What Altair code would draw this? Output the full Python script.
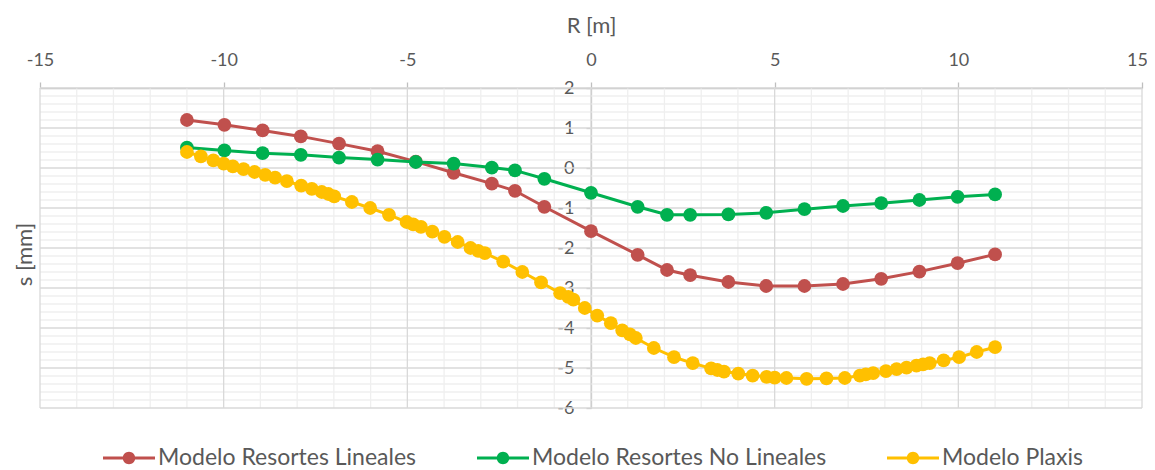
import altair as alt
import pandas as pd

series_names = ["Modelo Resortes Lineales", "Modelo Resortes No Lineales", "Modelo Plaxis"]
series_colors = ["#C0504D", "#00B050", "#FFC000"]

# Spring models (same R positions)
r_springs = [-11.0, -9.98, -8.94, -7.9, -6.86, -5.81, -4.77, -3.74, -2.7, -2.07, -1.27, 0.0,
             1.27, 2.07, 2.7, 3.74, 4.77, 5.81, 6.86, 7.9, 8.94, 9.98, 11.0]
s_linear = [1.20, 1.08, 0.94, 0.79, 0.61, 0.42, 0.16, -0.12, -0.39, -0.57, -0.97, -1.58,
            -2.17, -2.55, -2.68, -2.85, -2.95, -2.95, -2.90, -2.77, -2.59, -2.38, -2.16]
s_nonlinear = [0.51, 0.44, 0.37, 0.33, 0.26, 0.21, 0.15, 0.11, 0.01, -0.06, -0.27, -0.62,
               -0.97, -1.17, -1.17, -1.16, -1.12, -1.03, -0.95, -0.88, -0.80, -0.72, -0.66]

# Plaxis model
r_plaxis = [-11.0, -10.62, -10.28, -10.0, -9.75, -9.46, -9.16, -8.87, -8.6, -8.28, -7.89, -7.6,
            -7.33, -7.15, -6.99, -6.51, -6.01, -5.5, -5.02, -4.84, -4.63, -4.32, -3.99, -3.63,
            -3.28, -3.07, -2.89, -2.39, -1.87, -1.36, -0.84, -0.62, -0.48, -0.17, 0.17, 0.54,
            0.85, 1.06, 1.22, 1.71, 2.26, 2.77, 3.27, 3.44, 3.62, 4.01, 4.4, 4.78, 5.0, 5.32,
            5.87, 6.41, 6.91, 7.32, 7.48, 7.68, 8.03, 8.32, 8.59, 8.86, 9.04, 9.22, 9.6, 10.02,
            10.5, 11.0]
s_plaxis = [0.40, 0.29, 0.19, 0.11, 0.04, -0.03, -0.10, -0.17, -0.24, -0.33, -0.44, -0.52,
            -0.60, -0.65, -0.71, -0.85, -1.00, -1.17, -1.35, -1.41, -1.47, -1.59, -1.72, -1.85,
            -2.00, -2.07, -2.13, -2.34, -2.60, -2.86, -3.13, -3.22, -3.29, -3.50, -3.69, -3.88,
            -4.06, -4.16, -4.25, -4.50, -4.73, -4.88, -5.01, -5.05, -5.09, -5.14, -5.19, -5.22,
            -5.24, -5.25, -5.27, -5.26, -5.25, -5.19, -5.16, -5.13, -5.08, -5.03, -4.99, -4.94,
            -4.91, -4.88, -4.81, -4.73, -4.60, -4.48]

x_ticks = [-15, -10, -5, 0, 5, 10, 15]
y_ticks = [-6, -5, -4, -3, -2, -1, 0, 1, 2]
x_minor = [v for v in range(-15, 16) if v % 5 != 0]
y_minor = [round(-6 + 0.2 * i, 1) for i in range(41) if i % 5 != 0]

rows = []
for r, s in zip(r_springs, s_linear):
    rows.append({"R": r, "s": s, "serie": series_names[0]})
for r, s in zip(r_springs, s_nonlinear):
    rows.append({"R": r, "s": s, "serie": series_names[1]})
for r, s in zip(r_plaxis, s_plaxis):
    rows.append({"R": r, "s": s, "serie": series_names[2]})
df = pd.DataFrame(rows)

W, H = 1102, 320
FONT = "Lato"
GREY = "#595959"
AXIS_C = "#BFBFBF"

x_scale = alt.Scale(domain=[-15, 15], nice=False, zero=False)
y_scale = alt.Scale(domain=[-6, 2], nice=False, zero=False)
color_scale = alt.Scale(domain=series_names, range=series_colors)

x_axis = alt.Axis(orient="top", values=x_ticks, grid=False, domainColor=AXIS_C, domainWidth=1.3,
                  tickColor=AXIS_C, tickSize=6, tickWidth=1.3, labelColor=GREY, labelFont=FONT,
                  labelFontSize=18, labelPadding=13, labelExpr="'' + datum.value",
                  labelFlush=False, labelOverlap=False,
                  labelOffset={"condition": {"test": "datum.value == 15", "value": -5}, "value": 0},
                  title="R [m]", titleColor=GREY, titleFont=FONT, titleFontSize=22,
                  titleFontWeight="normal", titlePadding=14)
y_axis = alt.Axis(orient="left", offset=-W / 2, values=y_ticks, grid=False, domainColor=AXIS_C,
                  domainWidth=1.3, tickColor=AXIS_C, tickSize=5, tickWidth=1.3, labelColor=GREY,
                  labelFont=FONT, labelFontSize=18, labelPadding=12,
                  labelExpr="'' + datum.value", labelFlush=False, labelOverlap=False,
                  title="s [mm]", titleColor=GREY, titleFont=FONT, titleFontSize=22,
                  titleFontWeight="normal", titleX=-W / 2 - 16, titleY=166, titleAngle=270,
                  titleAlign="center", titleBaseline="middle")

sym_path = ("M-1,-0.06L1,-0.06L1,0.06L-1,0.06Z "
            "M0.24,0A0.24,0.24 0 1,1 -0.24,0A0.24,0.24 0 1,1 0.24,0Z")
legend = alt.Legend(orient="none", legendX=63, legendY=344, direction="horizontal", columns=3,
                    title=None, symbolType=sym_path, symbolSize=2704, symbolStrokeWidth=0,
                    labelFont=FONT, labelFontSize=23, labelColor=GREY, columnPadding=60,
                    labelOffset=3, labelLimit=500, padding=0)

X = alt.X("R:Q", scale=x_scale, axis=x_axis)
Y = alt.Y("s:Q", scale=y_scale, axis=y_axis)


def vrules(vals, color, width):
    return alt.Chart(pd.DataFrame({"R": vals})).mark_rule(color=color, strokeWidth=width).encode(x=X)


def hrules(vals, color, width):
    return alt.Chart(pd.DataFrame({"s": vals})).mark_rule(color=color, strokeWidth=width).encode(y=Y)


layers = [
    hrules(y_minor, "#EFEFEF", 1.3),
    vrules(x_minor, "#EFEFEF", 1.3),
    hrules(y_ticks, "#D9D9D9", 1.3),
    vrules(x_ticks, "#D9D9D9", 1.3),
]

base = alt.Chart(df)
for i, name in enumerate(series_names):
    sub = base.transform_filter(alt.datum.serie == name)
    line = sub.mark_line(strokeWidth=3, color=series_colors[i]).encode(x=X, y=Y)
    pts = sub.mark_point(filled=True, size=190, opacity=1, shape="circle").encode(
        x=X, y=Y,
        color=alt.Color("serie:N", scale=color_scale, sort=series_names, legend=legend))
    layers += [line, pts]

chart = alt.layer(*layers).properties(
    width=W, height=H,
    autosize=alt.AutoSizeParams(type="none"),
    padding={"left": 32, "top": 80, "right": 5, "bottom": 62},
).configure_view(stroke=None)

chart.save("out.html", embed_options={"renderer": "svg", "actions": False})
